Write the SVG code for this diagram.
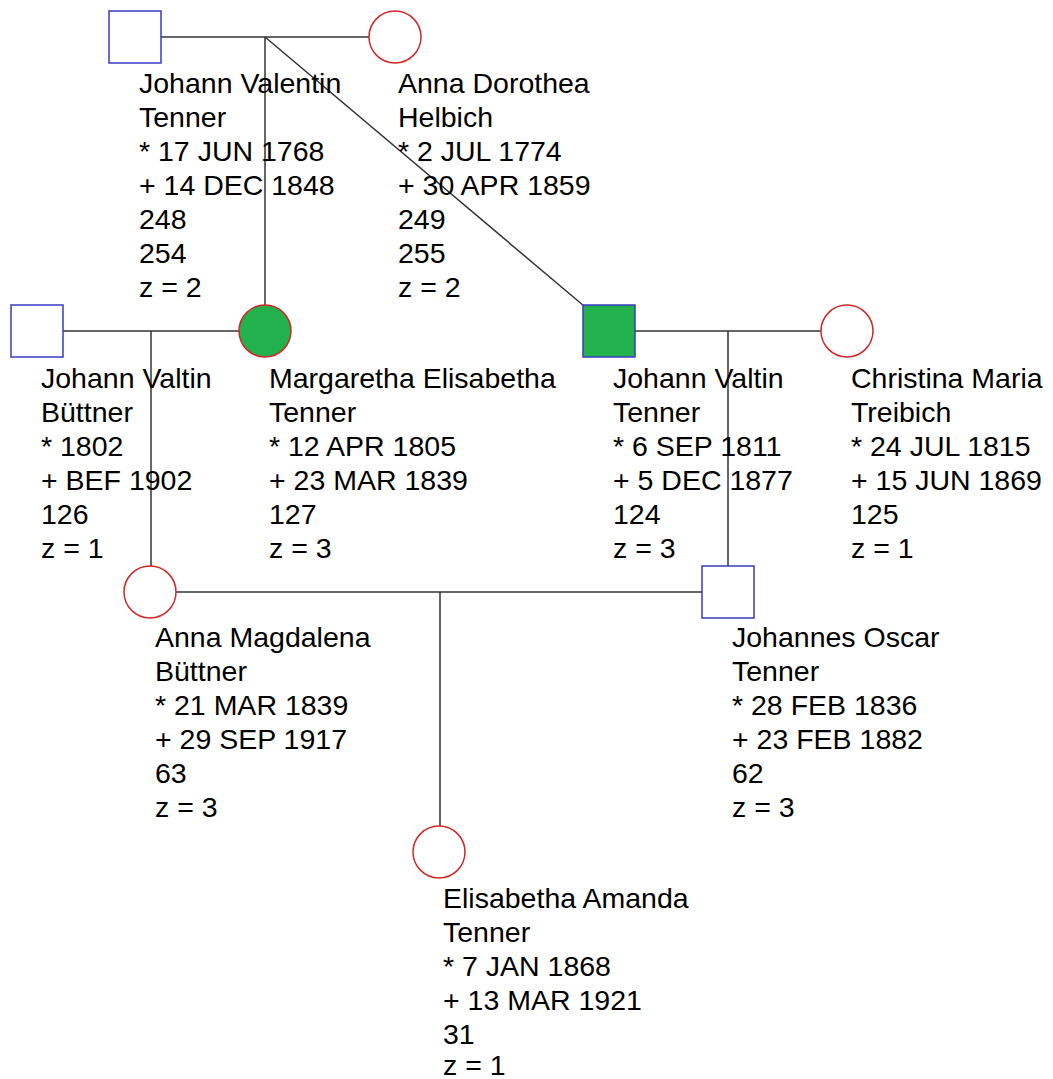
<svg xmlns="http://www.w3.org/2000/svg" width="1053" height="1079" viewBox="0 0 1053 1079">
<style>
.m{fill:#fff;stroke:#3a3ac8;stroke-width:1.5}
.f{fill:#fff;stroke:#d02828;stroke-width:1.5}
.l{stroke:#333;stroke-width:1.5;fill:none}
text{font-family:"Liberation Sans",Arial,sans-serif;font-size:28.5px;fill:#000}
</style>
<rect width="1053" height="1079" fill="#fff"/>
<g id="connectors">
<line class="l" x1="161" y1="37" x2="369" y2="37"/>
<line class="l" x1="265" y1="37" x2="265" y2="305"/>
<line class="l" x1="265" y1="37" x2="584" y2="306"/>
<line class="l" x1="63" y1="331" x2="239" y2="331"/>
<line class="l" x1="151" y1="331" x2="151" y2="566"/>
<line class="l" x1="635" y1="331" x2="821" y2="331"/>
<line class="l" x1="728" y1="331" x2="728" y2="566"/>
<line class="l" x1="176" y1="592" x2="702" y2="592"/>
<line class="l" x1="440" y1="592" x2="440" y2="826"/>
</g>
<g id="n248">
<rect class="m" x="109" y="11" width="52" height="52"/>
<text x="139" y="93">Johann Valentin</text><text x="139" y="127">Tenner</text><text x="139" y="161">* 17 JUN 1768</text><text x="139" y="195">+ 14 DEC 1848</text><text x="139" y="229">248</text><text x="139" y="263">254</text><text x="139" y="297">z = 2</text>
</g>
<g id="n249">
<circle class="f" cx="395" cy="37" r="26"/>
<text x="398" y="93">Anna Dorothea</text><text x="398" y="127">Helbich</text><text x="398" y="161">* 2 JUL 1774</text><text x="398" y="195">+ 30 APR 1859</text><text x="398" y="229">249</text><text x="398" y="263">255</text><text x="398" y="297">z = 2</text>
</g>
<g id="n126">
<rect class="m" x="11" y="305" width="52" height="52"/>
<text x="41" y="388">Johann Valtin</text><text x="41" y="422">Büttner</text><text x="41" y="456">* 1802</text><text x="41" y="490">+ BEF 1902</text><text x="41" y="524">126</text><text x="41" y="558">z = 1</text>
</g>
<g id="n127">
<circle class="f" cx="265" cy="331" r="26" style="fill:#22b14c"/>
<text x="269" y="388">Margaretha Elisabetha</text><text x="269" y="422">Tenner</text><text x="269" y="456">* 12 APR 1805</text><text x="269" y="490">+ 23 MAR 1839</text><text x="269" y="524">127</text><text x="269" y="558">z = 3</text>
</g>
<g id="n124">
<rect class="m" x="583" y="305" width="52" height="52" style="fill:#22b14c"/>
<text x="613" y="388">Johann Valtin</text><text x="613" y="422">Tenner</text><text x="613" y="456">* 6 SEP 1811</text><text x="613" y="490">+ 5 DEC 1877</text><text x="613" y="524">124</text><text x="613" y="558">z = 3</text>
</g>
<g id="n125">
<circle class="f" cx="847" cy="331" r="26"/>
<text x="851" y="388">Christina Maria</text><text x="851" y="422">Treibich</text><text x="851" y="456">* 24 JUL 1815</text><text x="851" y="490">+ 15 JUN 1869</text><text x="851" y="524">125</text><text x="851" y="558">z = 1</text>
</g>
<g id="n63">
<circle class="f" cx="150" cy="592" r="26"/>
<text x="155" y="647">Anna Magdalena</text><text x="155" y="681">Büttner</text><text x="155" y="715">* 21 MAR 1839</text><text x="155" y="749">+ 29 SEP 1917</text><text x="155" y="783">63</text><text x="155" y="817">z = 3</text>
</g>
<g id="n62">
<rect class="m" x="702" y="566" width="52" height="52"/>
<text x="732" y="647">Johannes Oscar</text><text x="732" y="681">Tenner</text><text x="732" y="715">* 28 FEB 1836</text><text x="732" y="749">+ 23 FEB 1882</text><text x="732" y="783">62</text><text x="732" y="817">z = 3</text>
</g>
<g id="n31">
<circle class="f" cx="439" cy="852" r="26"/>
<text x="443" y="908">Elisabetha Amanda</text><text x="443" y="942">Tenner</text><text x="443" y="976">* 7 JAN 1868</text><text x="443" y="1010">+ 13 MAR 1921</text><text x="443" y="1044">31</text><text x="443" y="1075">z = 1</text>
</g>
</svg>
